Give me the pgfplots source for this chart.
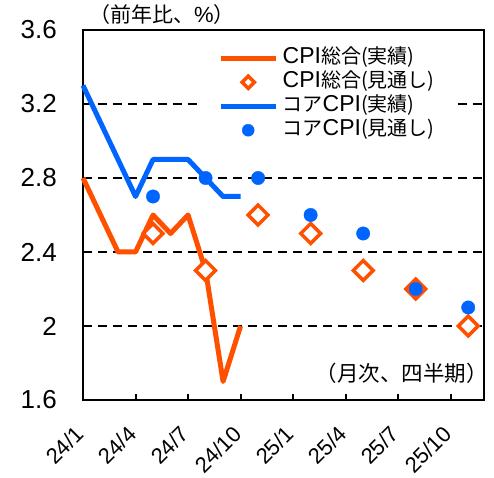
\documentclass[border=0pt]{standalone}
\usepackage{fontspec}
\setmainfont{Liberation Sans}
\newfontfamily\jp{Noto Sans CJK JP}
\usepackage{pgfplots}
\pgfplotsset{compat=1.18}
\definecolor{cpio}{RGB}{255,80,0}
\definecolor{coreb}{RGB}{0,100,255}
\newcommand{\J}[1]{{\jp\fontsize{20}{20}\selectfont #1}}
\begin{document}
\begin{tikzpicture}
\begin{axis}[
  scale only axis, width=401pt, height=370pt,
  xmin=0, xmax=22.9, ymin=1.6, ymax=3.6,
  clip=false,
  xtick={0,3,6,9,12,15,18,21},
  xticklabels={24/1,24/4,24/7,24/10,25/1,25/4,25/7,25/10},
  ytick={1.6,2,2.4,2.8,3.2,3.6},
  yticklabels={1.6,2,2.4,2.8,3.2,3.6},
  axis line style={line width=2.5pt},
  tick align=inside,
  xtick pos=bottom, ytick pos=left,
  major tick length=6pt,
  tick style={line width=2pt, black},
  ymajorgrids,
  grid style={black, line width=2pt, dash pattern=on 9pt off 6pt},
  yticklabel style={font=\fontsize{26}{26}\selectfont, anchor=east, inner sep=0pt, xshift=-26pt},
  xticklabel style={font=\fontsize{22}{22}\selectfont, inner sep=0pt, xshift=-3pt, yshift=-30pt, rotate=45, anchor=east},
  legend cell align=left,
  legend style={draw=none, fill=white, at={(axis description cs:0.2868,0.962)}, anchor=north west,
    inner xsep=20pt, inner ysep=2pt, row sep=0pt, column sep=3pt,
    font=\fontsize{23}{23}\selectfont,
    nodes={inner sep=1.5pt, text height=16pt, text depth=5pt}},
]
\addplot[cpio, line width=5pt, line join=round, mark=none,
  legend image code/.code={\draw[cpio, line width=5pt] (0pt,0pt) -- (55pt,0pt);}]
  coordinates {(0,2.8) (1,2.6) (2,2.4) (3,2.4) (4,2.6) (5,2.5) (6,2.6) (7,2.3) (8,1.7) (9,2.0)};
\addlegendentry{CPI\J{総合(実績)}}
\addplot[only marks, mark=square*, mark size=7pt, line width=3.5pt, draw=cpio, fill=white, mark options={rotate=45},
  legend image code/.code={\path (0pt,0pt) (55pt,0pt); \draw[only marks, mark=square*, mark size=4.3pt, line width=3.5pt, draw=cpio, fill=white, mark options={rotate=45}] plot coordinates {(27.5pt,0pt)};}]
  coordinates {(4,2.5) (7,2.3) (10,2.6) (13,2.5) (16,2.3) (19,2.2) (22,2.0)};
\addlegendentry{CPI\J{総合(見通し)}}
\addplot[coreb, line width=5pt, line join=round, mark=none,
  legend image code/.code={\draw[coreb, line width=5pt] (0pt,0pt) -- (55pt,0pt);}]
  coordinates {(0,3.3) (1,3.1) (2,2.9) (3,2.7) (4,2.9) (5,2.9) (6,2.9) (7,2.8) (8,2.7) (9,2.7)};
\addlegendentry{\J{コア}CPI\J{(実績)}}
\addplot[only marks, mark=*, mark size=6.7pt, color=coreb, mark options={draw=none, fill=coreb},
  legend image code/.code={\path (0pt,0pt) (55pt,0pt); \fill[coreb] (27.5pt,0pt) circle (6pt);}]
  coordinates {(4,2.7) (7,2.8) (10,2.8) (13,2.6) (16,2.5) (19,2.2) (22,2.1)};
\addlegendentry{\J{コア}CPI\J{(見通し)}}
\node[anchor=west, inner sep=0pt, xshift=6pt, yshift=15pt] at (rel axis cs:0,1) {{\jp\fontsize{21}{21}\selectfont（前年比、}{\fontsize{22}{22}\selectfont\%}{\jp\fontsize{21}{21}\selectfont）}};
\node[anchor=east, inner sep=0pt, xshift=4pt, yshift=27pt] at (rel axis cs:1,0) {{\jp\fontsize{21.5}{21.5}\selectfont（月次、四半期）}};
\end{axis}
\pgfresetboundingbox
\path[use as bounding box] ([shift={(-83pt,-78pt)}]current axis.south west) rectangle ([shift={(10pt,30pt)}]current axis.north east);
\end{tikzpicture}
\end{document}
